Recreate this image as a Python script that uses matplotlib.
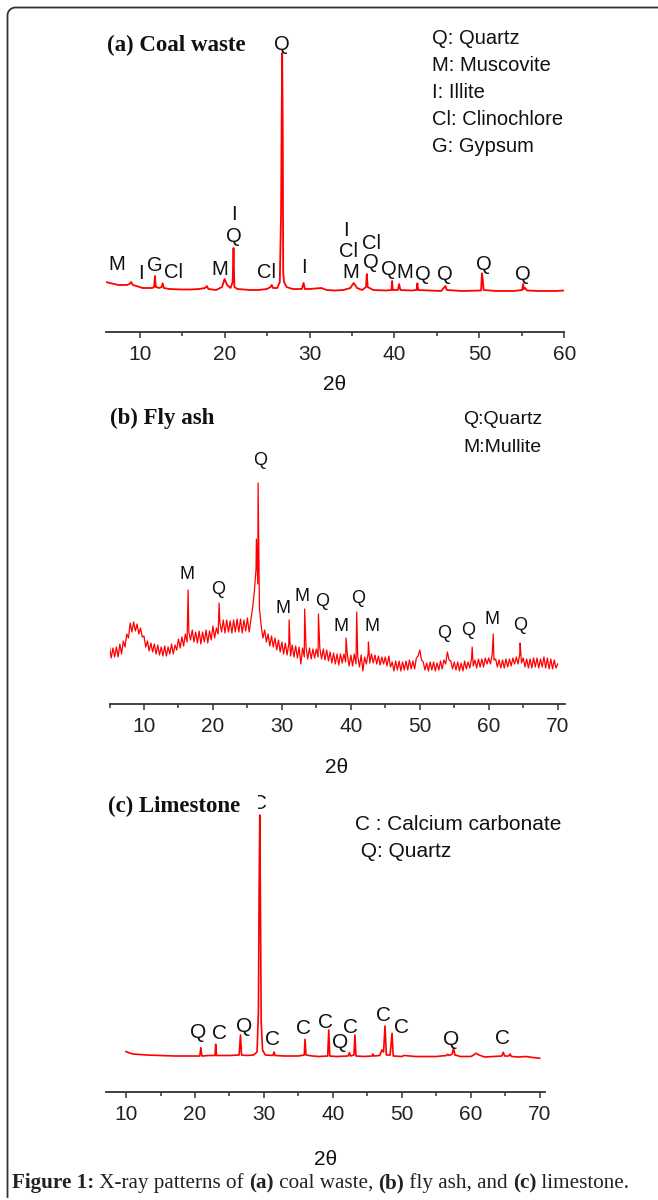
import numpy as np
import matplotlib
matplotlib.use("Agg")
import matplotlib.pyplot as plt
from matplotlib.lines import Line2D
from matplotlib.patches import Rectangle
from matplotlib.ticker import MultipleLocator

plt.rcParams['font.family'] = ['Liberation Sans', 'DejaVu Sans']

# ---- (a) coal waste: 2theta / intensity (arb. units) ----
coal_2theta = [6.0, 6.5, 7.0, 7.5, 8.0, 8.5, 8.8, 9.0, 9.2, 9.6, 10.0, 10.3, 11.0, 11.5,
               11.7, 11.8, 11.9, 12.3, 12.6, 12.7, 12.85, 13.5, 15.0, 16.0, 17.0, 17.7,
               17.9, 18.1, 19.0, 19.7, 20.0, 20.3, 20.7, 20.95, 21.05, 21.15, 21.5, 23.0,
               24.0, 25.0, 25.4, 25.55, 25.7, 26.2, 26.5, 26.65, 26.72, 26.78, 26.85, 26.9,
               27.0, 27.3, 28.0, 29.1, 29.3, 29.45, 30.0, 31.4, 32.0, 33.0, 34.0, 34.8,
               35.2, 35.6, 36.2, 36.65, 36.75, 36.85, 37.5, 39.0, 39.65, 39.73, 39.8, 40.4,
               40.55, 40.7, 42.0, 42.6, 42.7, 42.8, 45.5, 46.0, 46.15, 48.0, 50.2, 50.3,
               50.4, 50.5, 52.0, 54.0, 55.05, 55.14, 55.25, 55.4, 55.6, 57.0, 58.0, 59.0, 60.0]
coal_counts = [50, 49, 48, 47, 47, 47, 48, 50, 47, 46, 45, 44, 44, 44,
               45, 56, 45, 44, 45, 48.7, 44, 43, 42.5, 42.5, 43, 44,
               46, 43, 42, 45, 53, 47, 44, 50, 84, 45, 43, 42,
               42, 43, 45, 47, 44, 44, 50, 120, 212, 279, 200, 60,
               50, 45, 43, 43, 49, 43, 43, 44, 42, 41.5, 42, 44,
               49, 44, 42, 45, 58, 45, 42, 41.5, 42, 51, 42, 42,
               48, 42, 41.5, 42, 48.7, 42, 41, 46, 42, 41, 41.5, 58.7,
               52, 42, 41, 41, 42, 48, 43, 44, 41.5, 41, 41, 41, 41.5]
coal_labels = ["M", "I", "G", "Cl", "M", "Q", "I", "Cl", "Q", "I", "M", "Cl", "I",
               "Q", "Cl", "Q", "M", "Q", "Q", "Q", "Q"]
coal_label_x = [7.35, 10.2, 11.73, 13.93, 19.38, 21.06, 21.06, 24.99, 26.8, 29.3, 34.8, 34.6, 34.3,
                37.26, 37.26, 39.4, 41.2, 43.4, 45.97, 50.48, 55.18]
coal_label_y = [62, 52.7, 61.3, 53.7, 57, 90.3, 112, 53.7, 282, 58.7, 53.7, 74.5, 95.5,
                63.7, 82.5, 57, 53.7, 52, 52, 62, 52]
coal_legend = ["Q: Quartz", "M: Muscovite", "I: Illite", "Cl: Clinochlore", "G: Gypsum"]

# ---- (b) fly ash: scan 5-70 deg, step 0.25, plus sharp reflections ----
fly_scan_2theta = np.linspace(5.0, 70.0, 261)
fly_scan_counts = [
    58, 46, 56, 47, 57, 47, 60, 50, 63, 57, 70, 66, 81, 72, 82, 73,
    80, 70, 76, 67, 68, 57, 63, 53, 61, 52, 60, 50, 59, 49, 57, 48,
    58, 48, 57, 50, 60, 50, 59, 54, 65, 56, 67, 58, 70, 62, 72, 64,
    74, 62, 72, 61, 73, 60, 72, 62, 74, 61, 73, 64, 78, 66, 76, 70,
    82, 72, 84, 71, 84, 72, 83, 71, 84, 72, 85, 72, 85, 71, 84, 73,
    86, 72, 84, 96, 112, 135, 120, 95, 78, 66, 74, 62, 70, 58, 68, 57,
    66, 54, 64, 52, 62, 50, 61, 49, 60, 48, 59, 47, 58, 46, 57, 40,
    56, 47, 57, 45, 56, 45, 55, 46, 55, 47, 56, 45, 55, 44, 54, 43,
    52, 41, 51, 40, 50, 39, 50, 41, 50, 42, 49, 38, 49, 38, 50, 40,
    48, 37, 49, 33, 47, 40, 50, 41, 50, 41, 49, 40, 48, 39, 47, 40,
    47, 38, 48, 37, 42, 33, 43, 34, 43, 33, 42, 34, 43, 34, 44, 35,
    43, 35, 46, 48, 54, 44, 42, 34, 41, 33, 42, 34, 42, 33, 41, 34,
    43, 35, 44, 40, 52, 44, 43, 35, 42, 34, 42, 33, 41, 33, 43, 35,
    42, 36, 45, 38, 44, 36, 45, 37, 45, 37, 46, 40, 46, 40, 50, 44,
    45, 37, 44, 36, 44, 36, 45, 37, 45, 38, 46, 40, 47, 40, 50, 41,
    46, 37, 45, 36, 45, 36, 46, 37, 46, 36, 45, 37, 47, 36, 46, 35,
    45, 35, 44, 36, 40]
fly_peak_2theta = [16.4, 20.9, 26.3, 26.55, 31.05, 33.3, 35.3, 39.3, 40.85, 42.55, 57.6, 60.65, 64.55]
fly_peak_counts = [114, 101, 165, 221, 84, 95, 90, 66, 92, 62, 57, 70, 61]
fly_labels = ["M", "Q", "Q", "M", "M", "Q", "M", "Q", "M", "Q", "Q", "M", "Q"]
fly_label_x = [16.19, 20.69, 26.82, 30.11, 32.96, 35.77, 38.57, 41.08, 43.02, 53.5, 57.03, 60.43, 64.53]
fly_label_y = [124.7, 109.7, 239, 91.3, 103, 98, 73.3, 101.3, 73.3, 65.7, 69, 80, 74]
fly_legend = ["Q:Quartz", "M:Mullite"]

# ---- (c) limestone ----
lime_2theta = [10.0, 10.3, 11.0, 12.0, 13.0, 15.0, 17.0, 19.0, 20.7, 20.85, 21.0, 22.0, 22.9,
               23.0, 23.12, 24.0, 25.0, 26.4, 26.6, 26.75, 27.5, 28.5, 29.0, 29.2, 29.3,
               29.4, 29.5, 29.6, 29.8, 30.2, 31.3, 31.47, 31.6, 33.0, 35.0, 35.85, 35.96,
               36.1, 37.0, 38.0, 39.25, 39.4, 39.55, 40.5, 42.2, 42.4, 42.55, 43.05, 43.2,
               43.35, 44.5, 45.7, 45.8, 45.95, 46.8, 47.1, 47.35, 47.56, 47.75, 48.3, 48.58,
               48.75, 50.0, 50.3, 52.0, 55.0, 56.5, 56.65, 56.9, 57.3, 57.5, 57.7, 58.5,
               60.0, 60.3, 60.75, 61.2, 62.0, 63.3, 64.5, 64.72, 64.9, 65.5, 65.7, 65.9,
               67.0, 68.0, 69.0, 70.0]
lime_counts = [40.5, 39.5, 38, 37.5, 37, 36.5, 36, 36, 36, 44.3, 36, 36.5, 36.5,
               47.7, 36.5, 36.5, 36.5, 37, 57, 37, 36.5, 37, 40, 80, 200,
               277, 180, 70, 42, 37, 36.5, 40, 36.5, 36, 36, 37, 52.7,
               37, 36, 35.5, 36, 62, 36, 35.5, 36, 39.3, 36, 37, 57,
               36, 35.5, 36, 38, 36, 36.5, 42, 40, 66, 37, 37, 58.7,
               36, 35.5, 36.5, 35.5, 35.5, 36.5, 37.7, 36.5, 38, 43.7, 37, 35.5,
               35.5, 36.5, 38.7, 37, 35, 35.5, 36, 39.7, 36, 36, 38, 35.5,
               35, 35.5, 34.5, 33.7]
lime_labels = ["C", "Q", "C", "Q", "C", "C", "C", "Q", "C", "C", "C", "Q", "C"]
lime_label_x = [29.4, 20.5, 23.5, 27.16, 31.27, 35.7, 38.86, 41.1, 42.6, 47.3, 50.0, 57.1, 64.57]
lime_label_y = [282.7, 53.7, 52.7, 60.3, 47, 58, 63.7, 43.7, 58.7, 71.3, 58.7, 47, 47.7]
lime_legend = ["C : Calcium carbonate", " Q: Quartz"]

W, H = 658, 1200
fig = plt.figure(figsize=(W / 100, H / 100), dpi=100)


def fx(px):
    return px / W


def fy(py):
    return 1 - py / H


def make_axes(left, right, bottom, top, xlim):
    ax = fig.add_axes([fx(left), fy(bottom), (right - left) / W, (bottom - top) / H])
    ax.set_xlim(*xlim)
    ax.set_ylim(0, bottom - top)
    for s in ["left", "right", "top"]:
        ax.spines[s].set_visible(False)
    ax.spines["bottom"].set_linewidth(1.3)
    ax.spines["bottom"].set_color("#333333")
    ax.set_yticks([])
    ax.xaxis.set_major_locator(MultipleLocator(10))
    ax.xaxis.set_minor_locator(MultipleLocator(5))
    ax.tick_params(axis="x", which="major", direction="out", length=4.5, width=1.1,
                   color="#333333", labelsize=15, labelcolor="#222222", pad=5)
    ax.tick_params(axis="x", which="minor", direction="out", length=2.8, width=1.1, color="#333333")
    ax.patch.set_alpha(0)
    return ax


def put_labels(ax, labels, xs, ys, size):
    for t, x, y in zip(labels, xs, ys):
        ax.text(x, y, t, ha="center", va="baseline", fontsize=size, color="#111111", clip_on=False)


# (a)
ax_a = make_axes(105.7, 564.3, 332, 40, (6, 60))
ax_a.plot(coal_2theta, coal_counts, color="red", lw=1.3)
put_labels(ax_a, coal_labels, coal_label_x, coal_label_y, 14.5)
fig.text(fx(107), fy(51), "(a) Coal waste", family=["Liberation Serif"], weight="bold",
         fontsize=16.5, va="baseline", color="#111111")
for i, t in enumerate(coal_legend):
    fig.text(fx(431.5), fy(43.5 + 27.1 * i), t, fontsize=14.5, va="baseline", color="#111111")
fig.text(fx(335), fy(390), "2θ", fontsize=15, ha="center", va="baseline", color="#111111")

# (b)
ax_b = make_axes(109.5, 564.6, 704, 440, (5, 71))
fly_x = np.concatenate([fly_scan_2theta, fly_peak_2theta])
fly_y = np.concatenate([fly_scan_counts, fly_peak_counts])
order = np.argsort(fly_x)
ax_b.plot(fly_x[order], fly_y[order], color="red", lw=0.9)
put_labels(ax_b, fly_labels, fly_label_x, fly_label_y, 13)
fig.text(fx(110), fy(424), "(b) Fly ash", family=["Liberation Serif"], weight="bold",
         fontsize=16.5, va="baseline", color="#111111")
for i, t in enumerate(fly_legend):
    fig.text(fx(463), fy(424 + 27.7 * i), t, fontsize=14, va="baseline", color="#111111")
fig.text(fx(337), fy(773), "2θ", fontsize=15, ha="center", va="baseline", color="#111111")

# (c)
ax_c = make_axes(105.7, 544.9, 1092, 800, (7.05, 70.75))
ax_c.plot(lime_2theta, lime_counts, color="red", lw=1.2)
put_labels(ax_c, lime_labels, lime_label_x, lime_label_y, 15)
fig.add_artist(Rectangle((fx(104), fy(816)), (258 - 104) / W, 26 / H, transform=fig.transFigure,
                         facecolor="white", edgecolor="none", zorder=5))
fig.text(fx(108), fy(812), "(c) Limestone", family=["Liberation Serif"], weight="bold",
         fontsize=16.5, va="baseline", color="#111111", zorder=6)
for i, t in enumerate(lime_legend):
    fig.text(fx(355), fy(830 + 27.3 * i), t, fontsize=15, va="baseline", color="#111111")
fig.text(fx(326), fy(1165), "2θ", fontsize=15, ha="center", va="baseline", color="#111111")

# frame (top and left edges with rounded corner)
r = 8
ang = np.linspace(np.pi / 2, np.pi, 12)
fx_pts = [W] + list(7.5 + r + r * np.cos(ang)) + [7.5]
fy_pts = [7.5] + list(7.5 + r - r * np.sin(ang)) + [1197]
fig.add_artist(Line2D([fx(p) for p in fx_pts], [fy(p) for p in fy_pts], transform=fig.transFigure,
                      color="#333333", lw=1.3))

# caption, mixed bold / regular
caption = [("Figure 1:", "bold"), (" X-ray patterns of ", "normal"), ("(a)", "bold"),
           (" coal waste, ", "normal"), ("(b)", "bold"), (" fly ash, and ", "normal"),
           ("(c)", "bold"), (" limestone.", "normal")]
renderer = fig.canvas.get_renderer()


def draw_caption(size):
    x = 12
    arts = []
    for t, w in caption:
        txt = fig.text(fx(x), fy(1188), t, family=["Liberation Serif"], weight=w,
                       fontsize=size, va="baseline", color="#222222")
        bb = txt.get_window_extent(renderer)
        x += bb.width
        arts.append(txt)
    return x, arts


end, arts = draw_caption(12.5)
for a in arts:
    a.remove()
draw_caption(12.5 * (632 - 12) / (end - 12))

fig.savefig("out.png", dpi=100)
